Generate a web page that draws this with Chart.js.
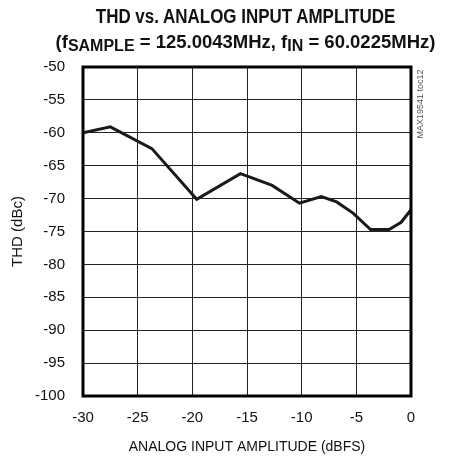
<!DOCTYPE html>
<html>
<head>
<meta charset="utf-8">
<script src="https://cdn.jsdelivr.net/npm/chart.js@4/dist/chart.umd.min.js"></script>
<style>
  body { margin: 0; background: #fff; }
  #wrap { position: relative; width: 449px; height: 458px; }
  .tit {
    position: absolute; left: 21px; width: 449px; text-align: center; white-space: nowrap;
    font-family: "Liberation Sans", Arial, sans-serif;
    font-weight: bold; color: #111; transform-origin: 50% 50%;
  }
  #t1 { top: 3px; font-size: 19.5px; line-height: 26px; transform: scaleX(0.87); }
  #t2 { top: 29px; font-size: 18.5px; line-height: 26px; transform: scaleX(1.0); }
  #t2 sub { font-size: 16px; vertical-align: -3px; line-height: 0; }
</style>
</head>
<body>
<div id="wrap">
  <canvas id="grafico_thd" width="449" height="458"></canvas>
  <div class="tit" id="t1">THD vs. ANALOG INPUT AMPLITUDE</div>
  <div class="tit" id="t2">(f<sub>SAMPLE</sub> = 125.0043MHz, f<sub>IN</sub> = 60.0225MHz)</div>
</div>
<script>
const fonte = '"Liberation Sans", Arial, sans-serif';

// amplitude de entrada (dBFS) e THD (dBc)
const amplitude = [-30, -27.5, -23.7, -19.6, -15.6, -12.7, -10.2, -8.2, -6.8, -5.3, -3.7, -2.0, -0.9, 0];
const thd = [-60.0, -59.1, -62.4, -70.1, -66.2, -68.0, -70.7, -69.7, -70.5, -72.2, -74.7, -74.7, -73.6, -71.7];

const xTicks = [-30, -25, -20, -15, -10, -5, 0];
const yTicks = [-50, -55, -60, -65, -70, -75, -80, -85, -90, -95, -100];

const moldura = {
  id: 'moldura',
  afterDatasetsDraw(chart) {
    const a = chart.chartArea;
    const ctx = chart.ctx;
    ctx.save();
    ctx.strokeStyle = '#000';
    ctx.lineWidth = 3;
    ctx.strokeRect(a.left, a.top, a.right - a.left, a.bottom - a.top);
    // código da figura
    ctx.translate(421, 104);
    ctx.rotate(-Math.PI / 2);
    ctx.fillStyle = '#555';
    ctx.font = '9px ' + fonte;
    ctx.textAlign = 'center';
    ctx.textBaseline = 'middle';
    ctx.fillText('MAX19541 toc12', 0, 0);
    ctx.restore();
  }
};

const ctx1 = document.getElementById('grafico_thd');

new Chart(ctx1, {
  type: 'scatter',
  data: {
    datasets: [{
      data: amplitude.map((a, i) => ({ x: a, y: thd[i] })),
      showLine: true,
      borderColor: '#1a1a1a',
      borderWidth: 3,
      pointRadius: 0,
      tension: 0
    }]
  },
  options: {
    responsive: false,
    animation: false,
    layout: { padding: { top: 67, right: 38, bottom: 2, left: 0 } },
    plugins: {
      legend: { display: false },
      tooltip: { enabled: false }
    },
    scales: {
      x: {
        type: 'linear',
        min: -30,
        max: 0,
        afterBuildTicks: scale => { scale.ticks = xTicks.map(v => ({ value: v })); },
        afterFit: scale => { scale.height = 60; },
        grid: { color: '#222', lineWidth: 1, drawTicks: false },
        border: { display: false },
        ticks: { color: '#111', padding: 13, font: { family: fonte, size: 15 } },
        title: {
          display: true,
          text: 'ANALOG INPUT AMPLITUDE (dBFS)',
          color: '#111',
          padding: 0,
          font: { family: fonte, size: 14 }
        }
      },
      y: {
        min: -100,
        max: -50,
        afterBuildTicks: scale => { scale.ticks = yTicks.map(v => ({ value: v })); },
        afterFit: scale => { scale.width = 83; },
        grid: { color: '#222', lineWidth: 1, drawTicks: false },
        border: { display: false },
        ticks: { color: '#111', padding: 18, font: { family: fonte, size: 15 } },
        title: {
          display: true,
          text: 'THD (dBc)',
          color: '#111',
          padding: { top: 9, bottom: 0 },
          font: { family: fonte, size: 15 }
        }
      }
    }
  },
  plugins: [moldura]
});
</script>
</body>
</html>
